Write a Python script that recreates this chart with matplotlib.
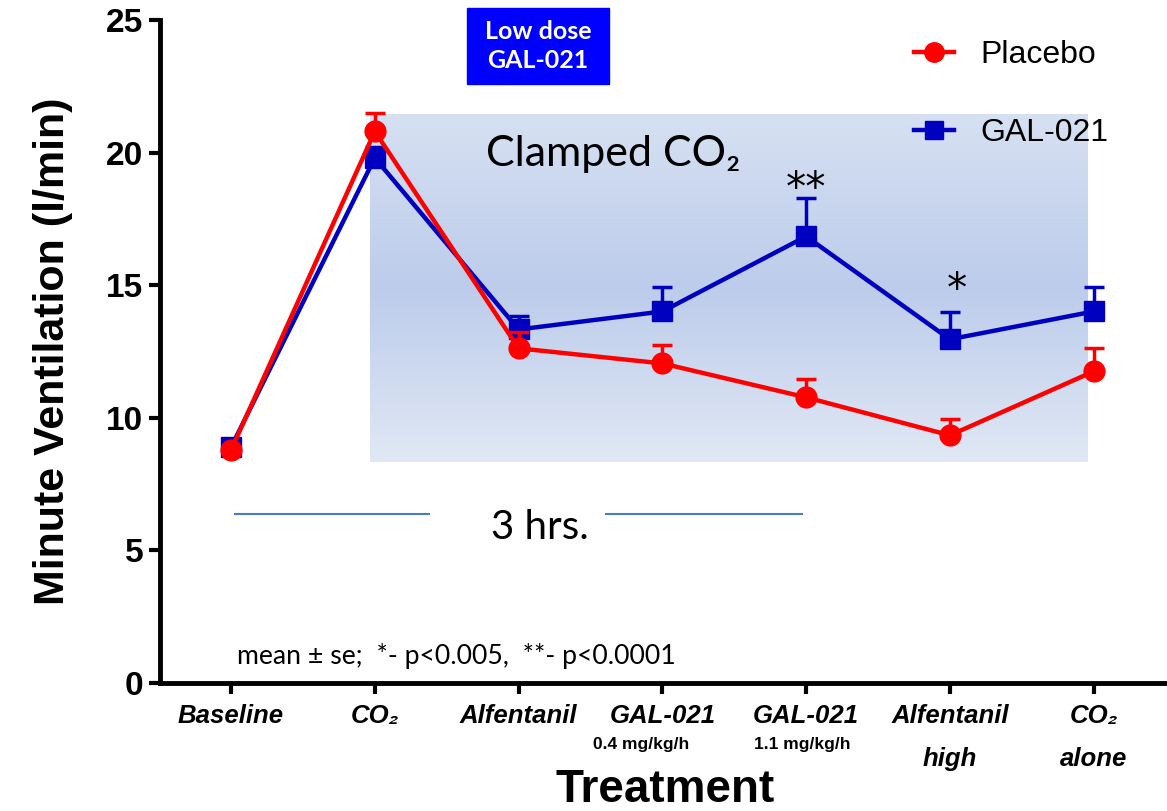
import matplotlib
matplotlib.use("Agg")
import matplotlib.pyplot as plt
import numpy as np
from matplotlib.patches import Rectangle
from matplotlib.lines import Line2D
from matplotlib.transforms import blended_transform_factory

# treatment steps and minute ventilation (mean, upper se)
treatments = ["Baseline", "CO₂", "Alfentanil", "GAL-021", "GAL-021", "Alfentanil", "CO₂"]
sub_labels = ["", "", "", "0.4 mg/kg/h", "1.1 mg/kg/h", "high", "alone"]
placebo = [8.78, 20.8, 12.62, 12.05, 10.77, 9.34, 11.75]
placebo_se = [0.0, 0.7, 0.6, 0.68, 0.68, 0.6, 0.9]
gal021 = [8.89, 19.8, 13.33, 14.01, 16.84, 12.96, 14.01]
gal021_se = [0.0, 0.4, 0.5, 0.94, 1.43, 1.04, 0.94]
yticks = [0, 5, 10, 15, 20, 25]

arial = ["Liberation Sans", "DejaVu Sans"]
calibri = ["Lato", "DejaVu Sans"]

fig = plt.figure(figsize=(11.67, 8.11), dpi=100)
ax = fig.add_axes([160/1167, 1-683/811, 1-160/1167, 663/811])
x = np.arange(len(treatments))

# shaded clamped-CO2 block with vertical gradient
grad = np.array([[0.84, 0.88, 0.95], [0.74, 0.80, 0.92], [0.88, 0.91, 0.96]])
t = np.linspace(0, 1, 200)
rows = np.array([np.interp(t, [0, 0.5, 1], grad[:, c]) for c in range(3)]).T
ax.imshow(rows[:, None, :], extent=[0.967, 5.96, 8.32, 21.43], aspect="auto",
          origin="upper", zorder=0, interpolation="bilinear")

zeros = np.zeros(len(x))
blue, red = "#0000c0", "#ff0000"
ax.errorbar(x, gal021, yerr=[zeros, gal021_se], color=blue, marker="s",
            markersize=14, lw=3.2, capsize=7, capthick=2.5, elinewidth=2.5, zorder=3)
ax.errorbar(x, placebo, yerr=[zeros, placebo_se], color=red, marker="o",
            markersize=15, lw=3.2, capsize=7, capthick=2.5, elinewidth=2.5, zorder=4)

ax.set_xlim(-0.494, 6.51)
ax.set_ylim(0, 25)
ax.set_yticks(yticks)
ax.set_yticklabels([str(v) for v in yticks], family=arial, fontweight="bold", fontsize=24)
ax.set_xticks(x)
ax.set_xticklabels(treatments, family=arial, fontweight="bold", style="italic", fontsize=18.5)
ax.tick_params(axis="both", width=3, length=8, direction="out")
ax.tick_params(axis="x", pad=7)
ax.tick_params(axis="y", pad=4)
for s in ["top", "right"]:
    ax.spines[s].set_visible(False)
for s in ["left", "bottom"]:
    ax.spines[s].set_linewidth(3.5)

trans = blended_transform_factory(ax.transData, ax.transAxes)
for i, lab in enumerate(sub_labels):
    if not lab:
        continue
    if "mg" in lab:
        shift = -0.15 if i == 3 else -0.03
        ax.text(i + shift, -0.093, lab, transform=trans, ha="center", va="center",
                family=arial, fontweight="bold", fontsize=12.5)
    else:
        ax.text(i, -0.115, lab, transform=trans, ha="center", va="center",
                family=arial, fontweight="bold", style="italic", fontsize=18.5)

ax.set_ylabel("Minute Ventilation (l/min)", family=arial, fontweight="bold",
              fontsize=31, labelpad=24)
fig.text(665/1167, 1-790/811, "Treatment", family=arial, fontweight="bold",
         fontsize=33, ha="center", va="center")

# annotations
ax.text(1.77, 19.95, "Clamped CO₂", family=calibri, fontsize=31, va="center")
ax.plot([0.03, 1.38], [6.36, 6.36], color="#4a7cc4", lw=1.5)
ax.plot([2.61, 3.97], [6.36, 6.36], color="#4a7cc4", lw=1.5)
ax.text(2.15, 5.85, "3 hrs.", family=calibri, fontsize=29, ha="center", va="center")
ax.text(0.04, 1.0, "mean ± se;  *- p<0.005,  **- p<0.0001", family=calibri,
        fontsize=19.2, va="center")
ax.text(4.0, 18.6, "**", fontsize=29, ha="center", va="center")
ax.text(5.05, 14.8, "*", fontsize=29, ha="center", va="center")

fig.patches.append(Rectangle((467/1167, 1-84/811), 142/1167, 76/811,
                             transform=fig.transFigure, color="#0000ff", zorder=5))
fig.text(538/1167, 1-46/811, "Low dose\nGAL-021", family=calibri, fontweight="bold",
         fontsize=18, color="white", ha="center", va="center", linespacing=1.3, zorder=6)

handles = [Line2D([], [], color=red, marker="o", markersize=14, lw=3.2),
           Line2D([], [], color=blue, marker="s", markersize=13, lw=3.2)]
ax.legend(handles, ["Placebo", "GAL-021"], loc="upper left", bbox_to_anchor=(0.727, 1.003),
          frameon=False, prop={"family": arial, "size": 23},
          labelspacing=1.5, handlelength=1.25, handletextpad=0.8, borderaxespad=0.3)

fig.savefig("out.png", dpi=100)
